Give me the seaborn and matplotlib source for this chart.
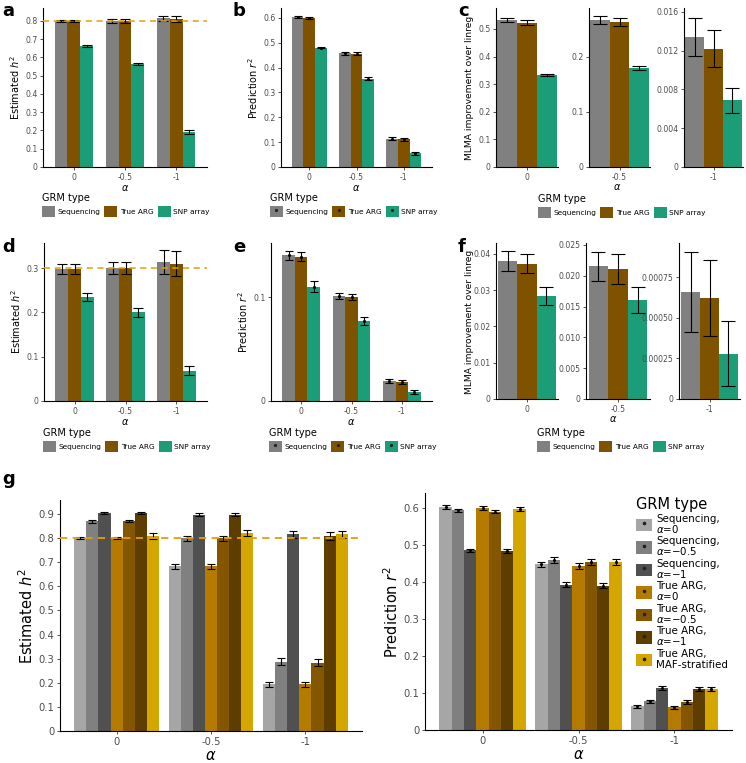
import pandas as pd
import seaborn as sns
import matplotlib.pyplot as plt
from matplotlib.patches import Patch
from matplotlib.lines import Line2D

# categorias
alphas = ["0", "-0.5", "-1"]
grm3 = ["Sequencing", "True ARG", "SNP array"]
cores3 = ["#808080", "#7F5200", "#1B9E77"]

grm7 = ["Seq a0", "Seq a05", "Seq a1", "ARG a0", "ARG a05", "ARG a1", "ARG MAF"]
rotulos7 = ["Sequencing,\n$\\alpha$=0", "Sequencing,\n$\\alpha$=\u22120.5", "Sequencing,\n$\\alpha$=\u22121",
            "True ARG,\n$\\alpha$=0", "True ARG,\n$\\alpha$=\u22120.5", "True ARG,\n$\\alpha$=\u22121",
            "True ARG,\nMAF-stratified"]
cores7 = ["#A6A6A6", "#808080", "#505050", "#B57A00", "#845600", "#5E3E00", "#D4A600"]

h2_top = 0.8
h2_bottom = 0.3

# linhas = alpha (0, -0.5, -1), colunas = tipo de GRM
a_med = [[0.800, 0.800, 0.663], [0.800, 0.800, 0.563], [0.813, 0.810, 0.190]]
a_se = [[0.005, 0.005, 0.007], [0.010, 0.010, 0.007], [0.015, 0.015, 0.010]]
b_med = [[0.603, 0.599, 0.481], [0.457, 0.455, 0.356], [0.114, 0.111, 0.055]]
b_se = [[0.004, 0.004, 0.004], [0.006, 0.006, 0.005], [0.006, 0.006, 0.005]]
c_med = [[0.532, 0.523, 0.333], [0.267, 0.263, 0.180], [0.0134, 0.0122, 0.0069]]
c_se = [[0.008, 0.008, 0.005], [0.007, 0.007, 0.003], [0.0020, 0.0019, 0.0013]]
d_med = [[0.298, 0.298, 0.235], [0.300, 0.300, 0.200], [0.315, 0.310, 0.068]]
d_se = [[0.012, 0.012, 0.010], [0.014, 0.013, 0.010], [0.027, 0.028, 0.010]]
e_med = [[0.140, 0.139, 0.110], [0.101, 0.100, 0.077], [0.019, 0.018, 0.009]]
e_se = [[0.004, 0.004, 0.005], [0.003, 0.003, 0.004], [0.002, 0.002, 0.002]]
f_med = [[0.0380, 0.0373, 0.0284], [0.0215, 0.0211, 0.0161], [0.00066, 0.00062, 0.00028]]
f_se = [[0.0027, 0.0027, 0.0025], [0.0024, 0.0024, 0.0021], [0.000245, 0.000235, 0.0002]]
g1_med = [[0.800, 0.870, 0.905, 0.800, 0.872, 0.905, 0.808],
          [0.683, 0.800, 0.897, 0.683, 0.800, 0.897, 0.820],
          [0.193, 0.288, 0.815, 0.193, 0.283, 0.810, 0.815]]
g1_se = [[0.005, 0.006, 0.005, 0.005, 0.005, 0.005, 0.012],
         [0.010, 0.010, 0.007, 0.010, 0.010, 0.007, 0.013],
         [0.010, 0.014, 0.015, 0.010, 0.015, 0.016, 0.015]]
g2_med = [[0.603, 0.593, 0.485, 0.599, 0.590, 0.484, 0.597],
          [0.447, 0.458, 0.392, 0.443, 0.454, 0.390, 0.453],
          [0.064, 0.077, 0.114, 0.062, 0.076, 0.110, 0.110]]
g2_se = [[0.005, 0.005, 0.005, 0.005, 0.005, 0.005, 0.005],
         [0.008, 0.008, 0.007, 0.008, 0.008, 0.007, 0.008],
         [0.004, 0.005, 0.006, 0.004, 0.005, 0.006, 0.006]]

W, H = 746, 763
fig = plt.figure(figsize=(W / 100, H / 100), dpi=100)
plt.rcParams["font.family"] = ["DejaVu Sans"]


def monta_df(med, se, grms):
    linhas = []
    for i, a in enumerate(alphas):
        for j, g in enumerate(grms):
            linhas.append({"alpha": a, "grm": g, "valor": med[i][j], "se": se[i][j]})
    return pd.DataFrame(linhas)


def eixo(l, t, r, b):
    return fig.add_axes([l / W, 1 - b / H, (r - l) / W, (b - t) / H])


def rotulo(v, ticks):
    dec = max(len(f"{t:.6f}".rstrip("0").split(".")[1]) for t in ticks if t)
    return "0" if v == 0 else f"{v:.{dec}f}"


def barras(ax, df, ordem, grms, cores, largura, cap, pontos=False):
    sns.barplot(data=df, x="alpha", y="valor", hue="grm", order=ordem, hue_order=grms,
                palette=cores, width=largura, errorbar=None, legend=False, saturation=1, ax=ax)
    for cont, g in zip(ax.containers, grms):
        sub = df[df.grm == g].set_index("alpha")
        xs, ys, es = [], [], []
        for b in cont:
            xc = b.get_x() + b.get_width() / 2
            a = ordem[int(round(xc))]
            xs.append(xc)
            ys.append(sub.loc[a, "valor"])
            es.append(sub.loc[a, "se"])
        ax.errorbar(xs, ys, yerr=es, fmt="none", ecolor="black", elinewidth=0.8,
                    capsize=cap, capthick=0.8, zorder=5)
        if pontos:
            ax.scatter(xs, ys, s=5, color="black", zorder=6, linewidths=0)


def estilo(ax, ylim, ticks, fs_tick, ylab=None, xlab=None, fs_lab=7, xlim=None):
    sns.despine(ax=ax)
    ax.set_ylim(*ylim)
    if xlim:
        ax.set_xlim(*xlim)
    ax.set_yticks(ticks)
    ax.set_yticklabels([rotulo(t, ticks) for t in ticks])
    ax.tick_params(labelsize=fs_tick, labelcolor="#4D4D4D", color="#333333", length=2.5, width=0.6, pad=1.5)
    for s in ["left", "bottom"]:
        ax.spines[s].set_linewidth(0.8)
    ax.set_ylabel(ylab if ylab else "", fontsize=fs_lab, labelpad=2)
    ax.set_xlabel(xlab if xlab else "", fontsize=fs_lab, labelpad=1)


def legenda(x, y, pontos, fs=5.3, fs_t=7):
    hs = []
    for c in cores3:
        p = Patch(facecolor=c, edgecolor="none")
        if pontos:
            p = (p, Line2D([], [], marker="o", ms=1.3, color="#222222", lw=0))
        hs.append(p)
    fig.legend(hs, grm3, title="GRM type", loc="upper left", bbox_to_anchor=(x / W, 1 - y / H),
               ncol=3, frameon=False, fontsize=fs, title_fontsize=fs_t, alignment="left",
               borderpad=0, handlelength=1.75, handleheight=1.9, handletextpad=0.35,
               columnspacing=0.6)


# ---------------- linha de cima (a, b, c) ----------------
df_a = monta_df(a_med, a_se, grm3)
ax = eixo(43, 8, 207, 167)
barras(ax, df_a, alphas, grm3, cores3, 0.75, 3.4)
ax.axhline(h2_top, color="#E69F00", lw=1.1, ls=(0, (4, 3)), zorder=7)
estilo(ax, (0, 0.87), [0, .1, .2, .3, .4, .5, .6, .7, .8], 5.6, "Estimated $h^2$", "$\\alpha$", xlim=(-0.6, 2.6))
legenda(38, 189, False)

df_b = monta_df(b_med, b_se, grm3)
ax = eixo(281, 8, 432, 167)
barras(ax, df_b, alphas, grm3, cores3, 0.75, 3.2, pontos=True)
estilo(ax, (0, 0.64), [0, .1, .2, .3, .4, .5, .6], 5.6, "Prediction $r^2$", "$\\alpha$", xlim=(-0.6, 2.6))
legenda(266, 189, True)

df_c = monta_df(c_med, c_se, grm3)
caixas_c = [(496, 558), (589, 650), (684, 743)]
lims_c = [0.576, 0.289, 0.0164]
ticks_c = [[0, .1, .2, .3, .4, .5], [0, .1, .2], [0, .004, .008, .012, .016]]
for k, a in enumerate(alphas):
    ax = eixo(caixas_c[k][0], 8, caixas_c[k][1], 167)
    barras(ax, df_c[df_c.alpha == a], [a], grm3, cores3, 0.96, 5.3)
    estilo(ax, (0, lims_c[k]), ticks_c[k], 5.6, xlim=(-0.5, 0.5))
fig.text(617 / W, 1 - 187 / H, "$\\alpha$", fontsize=7, ha="center", va="center")
fig.text(470 / W, 1 - 88 / H, "MLMA improvement over linreg", fontsize=6.6, rotation=90, ha="center", va="center")
legenda(534, 190, False)

# ---------------- linha do meio (d, e, f) ----------------
df_d = monta_df(d_med, d_se, grm3)
ax = eixo(44, 243, 207, 401)
barras(ax, df_d, alphas, grm3, cores3, 0.75, 3.4)
ax.axhline(h2_bottom, color="#E69F00", lw=1.1, ls=(0, (4, 3)), zorder=7)
estilo(ax, (0, 0.357), [0, .1, .2, .3], 5.6, "Estimated $h^2$", "$\\alpha$", xlim=(-0.6, 2.6))
legenda(39, 424, False)

df_e = monta_df(e_med, e_se, grm3)
ax = eixo(271, 243, 432, 401)
barras(ax, df_e, alphas, grm3, cores3, 0.75, 3.2, pontos=True)
estilo(ax, (0, 0.152), [0, .1], 5.6, "Prediction $r^2$", "$\\alpha$", xlim=(-0.6, 2.6))
legenda(265, 424, True)

df_f = monta_df(f_med, f_se, grm3)
caixas_f = [(496, 558), (586, 650), (679, 740)]
lims_f = [0.043, 0.0253, 0.00096]
ticks_f = [[0, .01, .02, .03, .04], [0, .005, .01, .015, .02, .025], [0, .00025, .0005, .00075]]
for k, a in enumerate(alphas):
    ax = eixo(caixas_f[k][0], 243, caixas_f[k][1], 399)
    barras(ax, df_f[df_f.alpha == a], [a], grm3, cores3, 0.92, 4.7)
    estilo(ax, (0, lims_f[k]), ticks_f[k], 5.6, xlim=(-0.5, 0.5))
fig.text(613 / W, 1 - 419 / H, "$\\alpha$", fontsize=7, ha="center", va="center")
fig.text(470 / W, 1 - 322 / H, "MLMA improvement over linreg", fontsize=6.6, rotation=90, ha="center", va="center")
legenda(533, 424, False)

# ---------------- painel g ----------------
df_g1 = monta_df(g1_med, g1_se, grm7)
ax = eixo(60, 500, 362, 731)
barras(ax, df_g1, alphas, grm7, cores7, 0.9, 2.9)
ax.axhline(h2_top, color="#E69F00", lw=1.3, ls=(0, (4, 3)), zorder=7)
estilo(ax, (0, 0.958), [0, .1, .2, .3, .4, .5, .6, .7, .8, .9], 7.2, "Estimated $h^2$", "$\\alpha$",
       fs_lab=10.5, xlim=(-0.6, 2.6))

df_g2 = monta_df(g2_med, g2_se, grm7)
ax = eixo(425, 493, 732, 730)
barras(ax, df_g2, alphas, grm7, cores7, 0.9, 2.6, pontos=True)
estilo(ax, (0, 0.64), [0, .1, .2, .3, .4, .5, .6], 7.2, "Prediction $r^2$", "$\\alpha$",
       fs_lab=10.5, xlim=(-0.6, 2.6))
hs = [(Patch(facecolor=c, edgecolor="none"), Line2D([], [], marker="o", ms=1.6, color="#222222", lw=0))
      for c in cores7]
leg = fig.legend(hs, rotulos7, title="GRM type", loc="upper left", bbox_to_anchor=(631 / W, 1 - 492 / H),
                 frameon=False, fontsize=7.4, title_fontsize=10.5, alignment="left", borderpad=0,
                 handlelength=1.5, handleheight=1.5, handletextpad=0.45, labelspacing=0.15)
for t in leg.get_texts():
    t.set_linespacing(0.9)
leg.get_texts()[-1].set_linespacing(1.1)

# letras dos paineis
for letra, x, y in [("a", 2, 2), ("b", 233, 2), ("c", 458, 2), ("d", 2, 238), ("e", 233, 238),
                    ("f", 458, 238), ("g", 2, 470)]:
    fig.text(x / W, 1 - y / H, letra, fontsize=13, fontweight="bold", ha="left", va="top")

plt.savefig("out.png", dpi=100)
